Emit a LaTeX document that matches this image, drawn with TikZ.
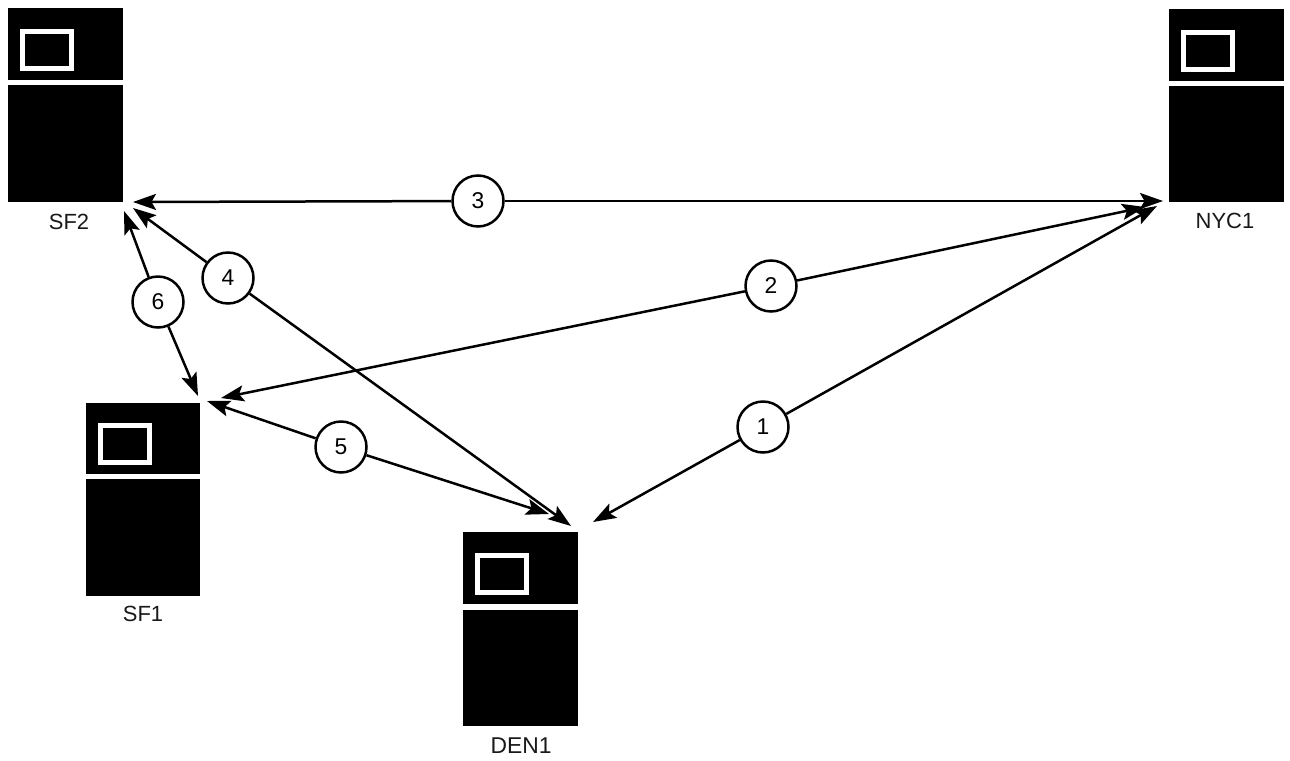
\documentclass[tikz,border=0pt]{standalone}
\usepackage{fontspec}
\setmainfont{Liberation Sans}
\usetikzlibrary{arrows.meta}
\tikzset{x=0.02cm,y=-0.02cm,
 term/.style={fill=black,draw=none,minimum width=2.3cm,minimum height=1.44cm,inner sep=0pt,outer sep=0pt},
 termb/.style={fill=black,draw=none,minimum width=2.3cm,minimum height=2.34cm,inner sep=0pt,outer sep=0pt},
 screen/.style={draw=white,line width=0.1cm,fill=black,minimum width=0.98cm,minimum height=0.74cm,inner sep=0pt},
 lab/.style={font=\fontsize{12.5pt}{14pt}\selectfont,text=black!90},
 num/.style={circle,draw=black,line width=0.05cm,fill=white,minimum size=1.02cm,inner sep=0pt,font=\fontsize{13pt}{15pt}\selectfont},
 link/.style={line width=0.05cm,black,-{Stealth[length=0.46cm,width=0.32cm,inset=0.09cm]}}}
\begin{document}
\begin{tikzpicture}
\useasboundingbox[fill=white] (0,0) rectangle (1290,760);
% SF2
\node[term] (sf2t) at (65.5,44) {};
\node[termb] (sf2b) at (65.5,143.5) {};
\node[screen] (sf2s) at (47,50) {};
\node[lab] (sf2l) at (69,222) {SF2};
\coordinate (sf2a) at (133,202);
\coordinate (sf2c) at (133,208);
\coordinate (sf2d) at (124,211);
% NYC1
\node[term] (nyt) at (1226.5,45) {};
\node[termb] (nyb) at (1226.5,144) {};
\node[screen] (nys) at (1208,51) {};
\node[lab] (nyl) at (1225,221) {NYC1};
\coordinate (nya) at (1163,201);
\coordinate (nyb2) at (1145,207);
\coordinate (nyc) at (1157,206);
% SF1
\node[term] (sf1t) at (143,438.5) {};
\node[termb] (sf1b) at (143,537.5) {};
\node[screen] (sf1s) at (125,444) {};
\node[lab] (sf1l) at (143,614) {SF1};
\coordinate (sf1a) at (198,396);
\coordinate (sf1b2) at (221,398);
\coordinate (sf1c) at (207,401);
% DEN1
\node[term] (dnt) at (520.5,568) {};
\node[termb] (dnb) at (520.5,668) {};
\node[screen] (dns) at (502,574) {};
\node[lab,font=\fontsize{13pt}{15pt}\selectfont] (dnl) at (521,746) {DEN1};
\coordinate (dna) at (571,526);
\coordinate (dnb2) at (549,514);
\coordinate (dnc) at (593,522);
% numbers
\node[num] (n1) at (763,427) {1};
\node[num] (n2) at (771,286) {2};
\node[num] (n3) at (478,201) {3};
\node[num] (n4) at (228,278) {4};
\node[num] (n5) at (341,447) {5};
\node[num] (n6) at (158,302) {6};
% links
\draw[link] (n1) -- (dnc);
\draw[link] (n1) -- (nyc);
\draw[link] (n2) -- (sf1b2);
\draw[link] (n2) -- (nyb2);
\draw[link] (n3) -- (sf2a);
\draw[link] (n3) -- (nya);
\draw[link] (n4) -- (sf2c);
\draw[link] (n4) -- (dna);
\draw[link] (n5) -- (sf1c);
\draw[link] (n5) -- (dnb2);
\draw[link] (n6) -- (sf2d);
\draw[link] (n6) -- (sf1a);
\end{tikzpicture}
\end{document}
